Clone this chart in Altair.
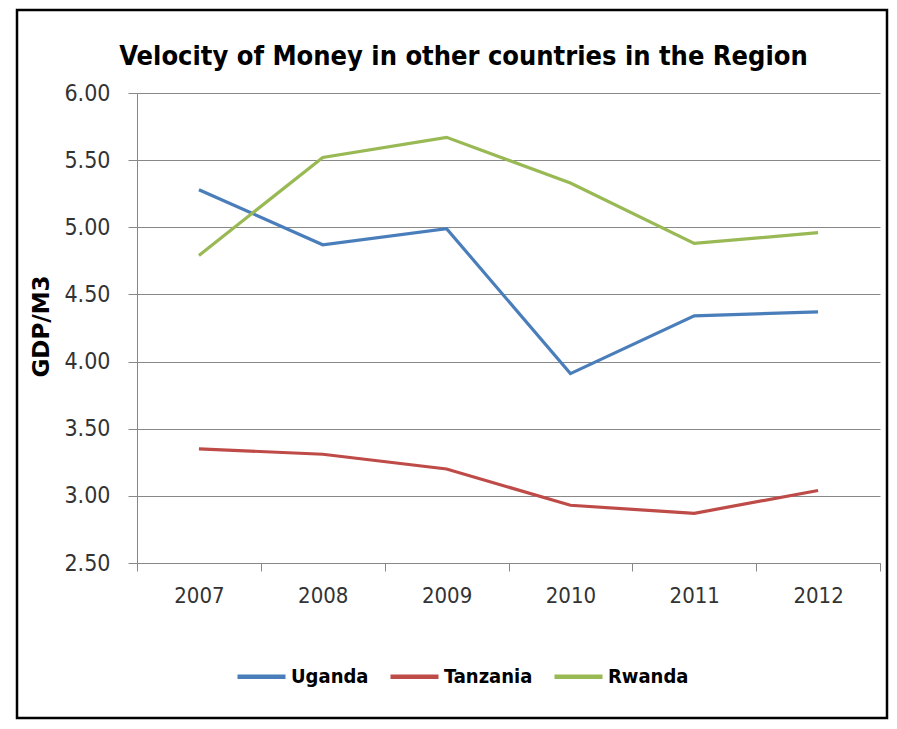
import altair as alt
import pandas as pd

years = ["2007", "2008", "2009", "2010", "2011", "2012"]
uganda = [5.28, 4.87, 4.99, 3.91, 4.34, 4.37]
tanzania = [3.35, 3.31, 3.20, 2.93, 2.87, 3.04]
rwanda = [4.79, 5.52, 5.67, 5.33, 4.88, 4.96]
countries = ["Uganda", "Tanzania", "Rwanda"]
colors = ["#4A7EBB", "#BE4B48", "#98B954"]

rows = []
for name, vals in zip(countries, [uganda, tanzania, rwanda]):
    for y, v in zip(years, vals):
        rows.append({"Year": y, "Country": name, "Value": v})
df = pd.DataFrame(rows)

label_font = "DejaVu Sans Condensed"
bold_font = "DejaVu Sans Condensed"

lines = alt.Chart(df).mark_line(strokeWidth=3.2).encode(
    x=alt.X("Year:N", sort=years, scale=alt.Scale(paddingInner=0, paddingOuter=0),
            axis=alt.Axis(title=None, labelAngle=0, labelFont=label_font, labelFontSize=22,
                          labelColor="#333", labelPadding=14, tickSize=8, tickColor="#888",
                          domainColor="#888", tickBand="extent", grid=False)),
    y=alt.Y("Value:Q", scale=alt.Scale(domain=[2.5, 6.0], nice=False, zero=False),
            axis=alt.Axis(title="GDP/M3", values=[2.5, 3.0, 3.5, 4.0, 4.5, 5.0, 5.5, 6.0],
                          format=".2f", labelFont=label_font, labelFontSize=23,
                          labelColor="#333", labelPadding=18, tickSize=9, tickColor="#888",
                          domainColor="#888", gridColor="#888", gridWidth=1,
                          titleFont="DejaVu Sans", titleFontSize=23, titleFontWeight="bold",
                          titleColor="#000", titleX=-96, titleY=233, titleAngle=270,
                          titleBaseline="middle", titleAlign="center")),
    color=alt.Color("Country:N", sort=countries,
                    scale=alt.Scale(domain=countries, range=colors),
                    legend=alt.Legend(title=None, orient="none", direction="horizontal",
                                      legendX=98, legendY=557, symbolType="stroke",
                                      symbolSize=2304, symbolStrokeWidth=4.5,
                                      labelFont=bold_font, labelFontSize=20,
                                      labelFontWeight="bold", labelColor="#000",
                                      labelOffset=3, columnPadding=12)),
)

frame = alt.Chart(pd.DataFrame({"f": [0]})).mark_rect(
    fill=None, stroke="#000", strokeWidth=2.5
).encode(
    x=alt.value(-120), x2=alt.value(750), y=alt.value(-83), y2=alt.value(625)
)

chart = alt.layer(frame, lines).properties(
    width=743,
    height=470,
    title=alt.TitleParams("Velocity of  Money in other countries in the Region",
                          font=bold_font, fontSize=27, fontWeight="bold", color="#000",
                          anchor="middle", dx=-45, offset=-62),
    autosize=alt.AutoSizeParams(type="none"),
    padding={"left": 129, "top": 85, "right": 9, "bottom": 158},
    background="white",
).configure_view(stroke=None)

chart.save("out.html", embed_options={"renderer": "svg", "actions": False})
